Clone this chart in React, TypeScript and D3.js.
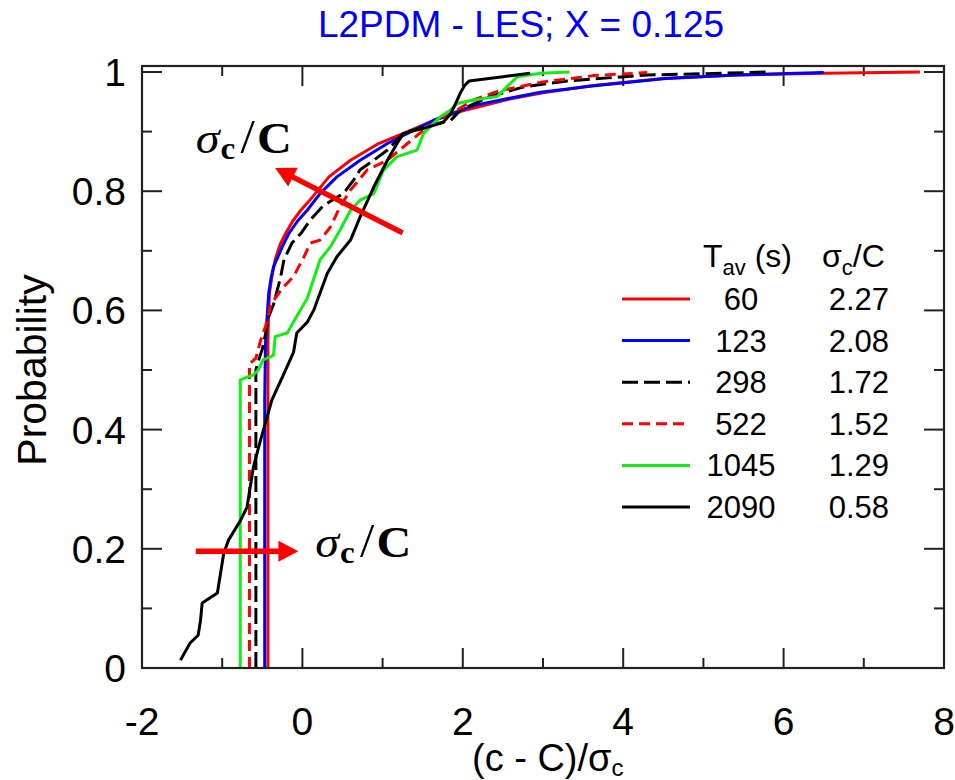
import React from 'react';
import * as d3 from 'd3';

const titleText = 'L2PDM - LES; X = 0.125';
const xTickValues = [-2, -1, 0, 1, 2, 3, 4, 5, 6, 7, 8];
const xLabelValues = [-2, 0, 2, 4, 6, 8];
const yTickValues = [0, 0.1, 0.2, 0.3, 0.4, 0.5, 0.6, 0.7, 0.8, 0.9, 1];
const yLabelValues = [0, 0.2, 0.4, 0.6, 0.8, 1];
const yLabelTexts = ['0', '0.2', '0.4', '0.6', '0.8', '1'];

const seriesNames = ['60', '123', '298', '522', '1045', '2090'];
const sigmaRatios = ['2.27', '2.08', '1.72', '1.52', '1.29', '0.58'];
const seriesColors = ['#ff0000', '#0000ff', '#000000', '#ff0000', '#11ee11', '#000000'];
const seriesDash = ['', '', '16,6', '11,6', '', ''];

const x60 = [-0.43, -0.43, -0.42, -0.41, -0.38, -0.34, -0.28, -0.21, -0.12, -0.02, 0.08, 0.16, 0.33, 0.6, 0.95, 1.26, 1.64, 2.0, 2.6, 3.0, 3.6, 4.5, 5.4, 6.5, 7.7];
const p60 = [0, 0.55, 0.6, 0.63, 0.657, 0.685, 0.71, 0.729, 0.75, 0.768, 0.783, 0.796, 0.824, 0.852, 0.88, 0.897, 0.919, 0.935, 0.955, 0.965, 0.977, 0.989, 0.995, 0.998, 1.0];

const x123 = [-0.47, -0.47, -0.46, -0.44, -0.42, -0.39, -0.36, -0.32, -0.25, -0.17, -0.06, 0.06, 0.22, 0.43, 0.72, 1.06, 1.31, 1.64, 2.14, 2.55, 2.97, 3.64, 4.53, 5.42, 6.5];
const p123 = [0, 0.45, 0.545, 0.59, 0.629, 0.655, 0.673, 0.685, 0.707, 0.729, 0.75, 0.768, 0.796, 0.824, 0.852, 0.88, 0.897, 0.919, 0.944, 0.955, 0.966, 0.977, 0.989, 0.995, 0.999];

const x298 = [-0.58, -0.58, -0.55, -0.5, -0.46, -0.42, -0.36, -0.27, -0.23, -0.13, -0.02, 0.1, 0.25, 0.37, 0.51, 0.64, 0.72, 0.89, 1.06, 1.18, 1.26, 1.51, 1.85, 1.97, 2.34, 2.76, 3.3, 4.3, 5.0, 5.8];
const p298 = [0, 0.5, 0.515, 0.535, 0.56, 0.59, 0.61, 0.657, 0.685, 0.713, 0.729, 0.752, 0.774, 0.785, 0.796, 0.819, 0.836, 0.852, 0.869, 0.886, 0.897, 0.908, 0.919, 0.936, 0.959, 0.975, 0.985, 0.995, 0.997, 1.0];

const x522 = [-0.66, -0.66, -0.62, -0.58, -0.52, -0.46, -0.4, -0.36, -0.23, -0.11, 0.02, 0.1, 0.22, 0.35, 0.47, 0.6, 0.81, 1.06, 1.31, 1.56, 1.85, 2.13, 2.44, 2.98, 3.64, 4.3];
const p522 = [0, 0.51, 0.515, 0.52, 0.55, 0.573, 0.606, 0.617, 0.64, 0.657, 0.69, 0.713, 0.718, 0.74, 0.774, 0.802, 0.836, 0.852, 0.88, 0.908, 0.93, 0.953, 0.968, 0.983, 0.994, 0.999];

const x1045 = [-0.775, -0.775, -0.73, -0.61, -0.55, -0.49, -0.4, -0.36, -0.34, -0.19, -0.07, 0.06, 0.22, 0.35, 0.47, 0.6, 0.72, 0.89, 1.01, 1.18, 1.43, 1.51, 1.72, 1.85, 1.93, 2.13, 2.43, 2.55, 2.68, 2.97, 3.33];
const p1045 = [0, 0.483, 0.486, 0.492, 0.5, 0.517, 0.522, 0.525, 0.556, 0.562, 0.59, 0.62, 0.685, 0.707, 0.735, 0.768, 0.785, 0.796, 0.835, 0.858, 0.869, 0.897, 0.925, 0.936, 0.947, 0.953, 0.959, 0.975, 0.992, 0.998, 1.0];

const x2090 = [-1.52, -1.45, -1.4, -1.3, -1.27, -1.25, -1.06, -0.98, -0.92, -0.77, -0.69, -0.61, -0.52, -0.38, -0.23, -0.11, -0.07, 0.06, 0.14, 0.31, 0.43, 0.6, 0.72, 0.89, 1.06, 1.18, 1.26, 1.5, 1.75, 1.85, 1.92, 1.97, 2.02, 2.08, 2.5, 2.84];
const p2090 = [0.013, 0.03, 0.042, 0.055, 0.08, 0.109, 0.126, 0.193, 0.215, 0.248, 0.27, 0.338, 0.383, 0.45, 0.494, 0.53, 0.562, 0.58, 0.6, 0.662, 0.69, 0.718, 0.757, 0.807, 0.852, 0.88, 0.897, 0.905, 0.915, 0.93, 0.95, 0.965, 0.977, 0.985, 0.992, 0.998];

const seriesX = [x60, x123, x298, x522, x1045, x2090];
const seriesP = [p60, p123, p298, p522, p1045, p2090];

// annotations in data coordinates
const arrow1 = { x1: 1.25, y1: 0.73, x2: -0.34, y2: 0.839 };
const arrow2 = { x1: -1.33, y1: 0.196, x2: -0.05, y2: 0.196 };
const label1 = { x: -1.33, y: 0.864 };
const label2 = { x: 0.16, y: 0.186 };

const W = 955;
const H = 780;
const L = 142, R = 944, T = 66, B = 668;

const SANS = '"Liberation Sans", Arial, Helvetica, sans-serif';
const SERIF = '"Liberation Serif", "Times New Roman", serif';

function Arrow({ a, xs, ys }: any) {
  const X1 = xs(a.x1), Y1 = ys(a.y1), X2 = xs(a.x2), Y2 = ys(a.y2);
  const dx = X2 - X1, dy = Y2 - Y1;
  const len = Math.hypot(dx, dy);
  const ux = dx / len, uy = dy / len;
  const nx = -uy, ny = ux;
  const headL = 20, headW = 10.5, shaftW = 2.7;
  const bx = X2 - ux * headL, by = Y2 - uy * headL;
  const pts = [
    [X1 + nx * shaftW, Y1 + ny * shaftW],
    [bx + nx * shaftW, by + ny * shaftW],
    [bx + nx * headW, by + ny * headW],
    [X2, Y2],
    [bx - nx * headW, by - ny * headW],
    [bx - nx * shaftW, by - ny * shaftW],
    [X1 - nx * shaftW, Y1 - ny * shaftW],
  ];
  return <polygon points={pts.map((p) => p.join(',')).join(' ')} fill="#ff0000" />;
}

function MathLabel({ x, y }: any) {
  return (
    <g transform={`translate(${x},${y}) scale(1.07,1)`}>
      <text x={0} y={0} fontFamily={SERIF} fontSize={45} fill="#000">
        <tspan fontStyle="italic">σ</tspan>
        <tspan fontWeight="bold" fontSize={31} dy={6} dx={1}>c</tspan>
        <tspan dy={-6} dx={5} fontSize={48}>/</tspan>
        <tspan fontWeight="bold" dx={2}>C</tspan>
      </text>
    </g>
  );
}

export default function App() {
  const xs = d3.scaleLinear().domain([-2, 8]).range([L, R]);
  const ys = d3.scaleLinear().domain([0, 1]).range([B, 72]);
  const line = d3
    .line<[number, number]>()
    .x((d) => xs(d[0]))
    .y((d) => ys(d[1]));

  const legX1 = 622, legX2 = 690, legY0 = 299, legDy = 41.6;

  return (
    <svg width={W} height={H} style={{ position: 'absolute', left: 0, top: 0, background: '#fff' }}>
      <rect x={0} y={0} width={W} height={H} fill="#fff" />
      <text x={521} y={37} textAnchor="middle" fontFamily={SANS} fontSize={37} fill="#0000ff">
        {titleText}
      </text>

      {/* ticks */}
      {xTickValues.map((v) => {
        const len = v % 2 === 0 ? 20 : 10;
        const X = xs(v);
        return (
          <g key={'xt' + v} stroke="#222" strokeWidth={2}>
            <line x1={X} x2={X} y1={B} y2={B - len} />
            <line x1={X} x2={X} y1={T} y2={T + len} />
          </g>
        );
      })}
      {yTickValues.map((v, i) => {
        const len = i % 2 === 0 ? 20 : 10;
        const Y = ys(v);
        return (
          <g key={'yt' + i} stroke="#222" strokeWidth={2}>
            <line x1={L} x2={L + len} y1={Y} y2={Y} />
            <line x1={R} x2={R - len} y1={Y} y2={Y} />
          </g>
        );
      })}

      {/* curves */}
      <g fill="none" strokeWidth={3} strokeLinejoin="round">
        {seriesX.map((xsArr, i) => {
          const pts = xsArr.map((v, j) => [v, seriesP[i][j]] as [number, number]);
          return (
            <path
              key={'s' + i}
              d={line(pts) || ''}
              stroke={seriesColors[i]}
              strokeDasharray={seriesDash[i] || undefined}
            />
          );
        })}
      </g>

      <rect x={L} y={T} width={R - L} height={B - T} fill="none" stroke="#222" strokeWidth={2.2} />

      {/* tick labels */}
      {xLabelValues.map((v) => (
        <text key={'xl' + v} x={xs(v)} y={735} textAnchor="middle" fontFamily={SANS} fontSize={39} fill="#000">
          {String(v)}
        </text>
      ))}
      {yLabelValues.map((v, i) => (
        <text key={'yl' + i} x={126} y={ys(v) + 14} textAnchor="end" fontFamily={SANS} fontSize={39} fill="#000">
          {yLabelTexts[i]}
        </text>
      ))}

      {/* axis titles */}
      <text transform="translate(46,370) rotate(-90)" textAnchor="middle" fontFamily={SANS} fontSize={41} fill="#000">
        Probability
      </text>
      <text x={472} y={771} fontFamily={SANS} fontSize={38} fill="#000">
        (c - C)/σ<tspan fontSize={24} dy={5}>c</tspan>
      </text>

      {/* legend */}
      <text x={703} y={267} fontFamily={SANS} fontSize={32} fill="#000">
        T<tspan fontSize={22} dy={8}>av</tspan>
        <tspan dy={-8}> (s)</tspan>
      </text>
      <text x={822} y={267} fontFamily={SANS} fontSize={32} fill="#000">
        σ<tspan fontSize={22} dy={8}>c</tspan>
        <tspan dy={-8}>/C</tspan>
      </text>
      {seriesNames.map((n, i) => {
        const Y = legY0 + i * legDy;
        return (
          <g key={'lg' + i}>
            <line
              x1={legX1}
              x2={legX2}
              y1={Y}
              y2={Y}
              stroke={seriesColors[i]}
              strokeWidth={3}
              strokeDasharray={seriesDash[i] || undefined}
            />
            <text x={741} y={Y + 11} textAnchor="middle" fontFamily={SANS} fontSize={31} fill="#000">
              {n}
            </text>
            <text x={889} y={Y + 11} textAnchor="end" fontFamily={SANS} fontSize={31} fill="#000">
              {sigmaRatios[i]}
            </text>
          </g>
        );
      })}

      {/* annotations */}
      <Arrow a={arrow1} xs={xs} ys={ys} />
      <Arrow a={arrow2} xs={xs} ys={ys} />
      <MathLabel x={xs(label1.x)} y={ys(label1.y)} />
      <MathLabel x={xs(label2.x)} y={ys(label2.y)} />
    </svg>
  );
}
